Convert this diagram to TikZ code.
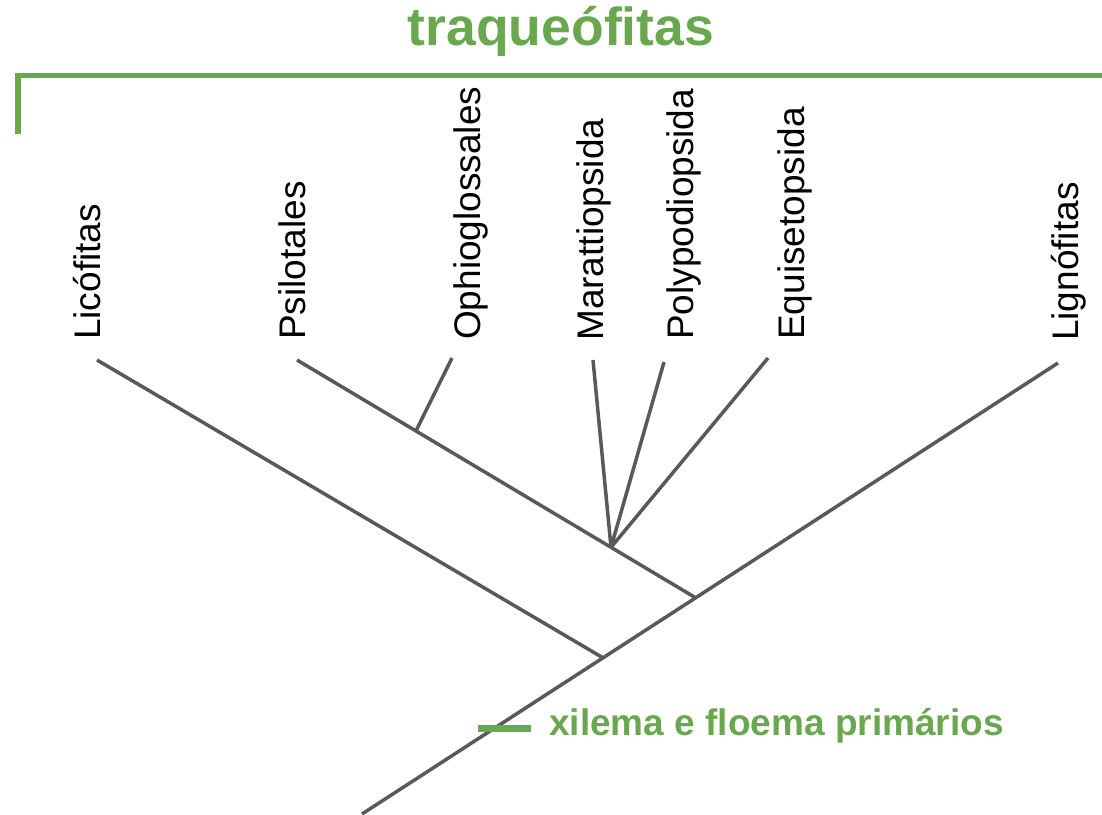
\documentclass[tikz,border=0pt]{standalone}
\usepackage{fontspec}
\setmainfont{Liberation Sans}
\usetikzlibrary{calc}
\definecolor{grn}{HTML}{6AA84F}
\definecolor{branch}{HTML}{595959}
\tikzset{
  edge/.style={draw=branch, line width=3.5pt},
  taxon/.style={rotate=90, anchor=base west, inner sep=0pt, font=\fontsize{37}{41}\selectfont},
  grnline/.style={draw=grn, line width=5.5pt}
}
\begin{document}
\begin{tikzpicture}[x=1pt,y=-1pt]
\useasboundingbox (0,0) rectangle (1102,814);
% title and bracket
\node[inner sep=0pt, anchor=base, text=grn, font=\fontsize{53.5}{58}\selectfont\bfseries] (title) at (561,45) {traqueófitas};
\coordinate (brA) at (18,134);
\coordinate (brB) at (18,75.5);
\coordinate (brC) at (1102,75.5);
\draw[grnline] (brA) -- (brB) -- (brC);
% tips
\coordinate (lic) at (97,360);
\coordinate (psi) at (297,360);
\coordinate (oph) at (452,358);
\coordinate (mar) at (593,360);
\coordinate (pol) at (664,362);
\coordinate (equ) at (768,358);
\coordinate (lig) at (1058,363);
% internal nodes
\coordinate (root) at (362,814);
\coordinate (nB) at (696,598);
\coordinate (nA) at ($(root)!0.3463!(lig)$);
\coordinate (nF) at ($(psi)!0.787!(nB)$);
\coordinate (nO) at ($(psi)!0.298!(nB)$);
% branches
\draw[edge] (root) -- (lig);
\draw[edge] (lic) -- (nA);
\draw[edge] (psi) -- (nB);
\draw[edge] (oph) -- (nO);
\draw[edge] (mar) -- (nF);
\draw[edge] (pol) -- (nF);
\draw[edge] (equ) -- (nF);
% labels
\node[taxon] (tlic) at (100,340) {Licófitas};
\node[taxon] (tpsi) at (305,340) {Psilotales};
\node[taxon] (toph) at (480,340) {Ophioglossales};
\node[taxon] (tmar) at (603,341) {Marattiopsida};
\node[taxon] (tpol) at (693,340) {Polypodiopsida};
\node[taxon] (tequ) at (804,340) {Equisetopsida};
\node[taxon] (tlig) at (1078,341) {Lignófitas};
% synapomorphy
\coordinate (mk1) at (478,728);
\coordinate (mk2) at (531,728);
\draw[draw=grn, line width=7pt] (mk1) -- (mk2);
\node[inner sep=0pt, anchor=base west, text=grn, font=\fontsize{37}{41}\selectfont\bfseries] (syn) at (549,735) {xilema e floema primários};
\end{tikzpicture}
\end{document}
